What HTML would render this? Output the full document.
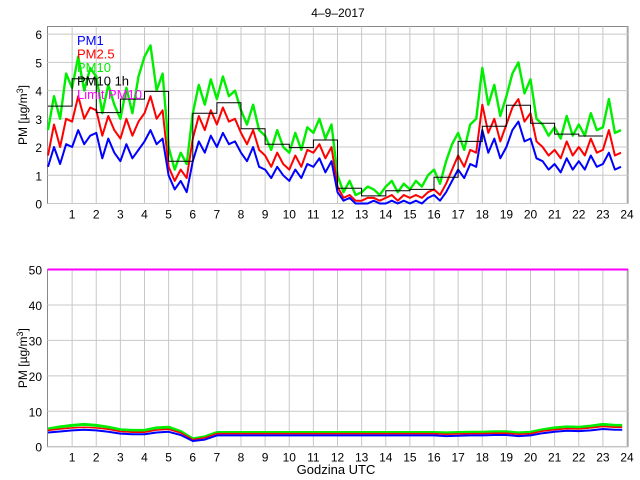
<!DOCTYPE html>
<html><head><meta charset="utf-8"><style>
body{margin:0;background:#fff;}
svg{display:block;font-family:"Liberation Sans",sans-serif;}
</style></head><body>
<svg id="chart" width="640" height="480" xmlns="http://www.w3.org/2000/svg">
<rect width="640" height="480" fill="#fff"/>
<text x="338" y="17" font-size="12" text-anchor="middle">4–9–2017</text>
<g id="top"></g>
<g id="bot"></g>
<text x="336" y="474" font-size="13" text-anchor="middle">Godzina UTC</text>
</svg>
<script>
const hourTicks=[1,2,3,4,5,6,7,8,9,10,11,12,13,14,15,16,17,18,19,20,21,22,23,24];
const topYTicks=[0,1,2,3,4,5,6];
const botYTicks=[0,10,20,30,40,50];
const pm1Top=[1.3,2.0,1.4,2.1,2.0,2.6,2.1,2.4,2.5,1.6,2.3,1.8,1.5,2.1,1.6,1.9,2.2,2.6,2.1,2.3,1.0,0.5,0.8,0.4,1.5,2.2,1.8,2.4,2.0,2.5,2.1,2.2,1.8,1.5,2.0,1.3,1.2,0.9,1.3,1.0,0.8,1.2,0.9,1.4,1.3,1.6,1.1,1.5,0.4,0.1,0.2,0,0,0,0.1,0,0,0.1,0,0.1,0,0.1,0,0.2,0.3,0.1,0.4,0.8,1.2,0.9,1.4,1.3,2.6,1.8,2.3,1.6,2.0,2.6,2.9,2.2,2.3,1.6,1.5,1.2,1.4,1.1,1.6,1.2,1.5,1.2,1.7,1.3,1.4,1.8,1.2,1.3];
const pm25Top=[1.7,2.8,2.0,3.0,2.9,3.8,3.0,3.4,3.3,2.4,3.1,2.6,2.3,3.0,2.4,2.9,3.2,3.8,3.0,3.3,1.3,0.8,1.2,0.9,2.3,3.1,2.6,3.3,2.8,3.4,2.9,3.0,2.5,2.1,2.6,1.9,1.7,1.3,1.8,1.4,1.2,1.7,1.3,1.9,1.8,2.1,1.6,2.0,0.6,0.2,0.3,0.1,0.1,0.2,0.2,0.1,0.2,0.3,0.1,0.3,0.2,0.3,0.2,0.4,0.5,0.3,0.7,1.2,1.7,1.3,1.9,1.8,3.5,2.5,3.0,2.2,2.8,3.4,3.7,2.9,3.2,2.2,2.0,1.7,1.9,1.6,2.2,1.7,2.0,1.7,2.3,1.8,1.9,2.6,1.7,1.8];
const pm10Top=[2.6,3.8,3.0,4.6,4.1,5.2,4.0,4.8,4.5,3.2,4.2,3.5,3.0,4.1,3.2,4.5,5.2,5.6,4.0,4.6,2.0,1.2,1.8,1.4,3.2,4.2,3.5,4.4,3.7,4.5,3.8,4.0,3.3,2.8,3.5,2.6,2.4,1.9,2.6,2.0,1.8,2.5,1.9,2.7,2.5,3.0,2.3,2.8,1.0,0.4,0.8,0.3,0.4,0.6,0.5,0.3,0.6,0.8,0.4,0.7,0.5,0.8,0.6,1.0,1.2,0.7,1.5,2.1,2.5,1.9,2.8,3.0,4.8,3.5,4.2,3.1,3.8,4.6,5.0,3.9,4.4,3.0,2.8,2.4,2.7,2.3,3.1,2.4,2.8,2.4,3.2,2.6,2.7,3.7,2.5,2.6];
const pm10Hourly=[3.45,4.42,3.22,3.7,3.97,1.5,3.2,3.57,2.65,2.1,1.98,2.25,0.54,0.27,0.45,0.5,0.93,2.2,2.74,3.48,2.84,2.46,2.39];
const botHours=[0,0.5,1,1.5,2,2.5,3,3.5,4,4.5,5,5.5,6,6.5,7,16,16.5,17,17.5,18,18.5,19,19.5,20,20.5,21,21.5,22,22.5,23,23.5,23.8];
const pm1Bot=[4.0,4.3,4.6,4.8,4.6,4.2,3.7,3.5,3.5,4.0,4.2,3.3,1.6,2.0,3.2,3.2,3.0,3.1,3.2,3.2,3.3,3.3,3.0,3.2,3.8,4.2,4.5,4.4,4.6,5.0,4.8,4.8];
const pm25Bot=[4.6,5.0,5.3,5.5,5.3,4.9,4.3,4.1,4.1,4.7,4.9,3.9,2.0,2.5,3.7,3.7,3.5,3.6,3.7,3.7,3.8,3.8,3.5,3.7,4.4,4.8,5.1,5.0,5.3,5.7,5.5,5.5];
const pm10Bot=[5.0,5.6,6.0,6.3,6.0,5.5,4.8,4.6,4.6,5.3,5.5,4.3,2.2,2.8,4.0,4.0,3.9,4.0,4.1,4.1,4.2,4.2,3.9,4.1,4.8,5.3,5.6,5.5,5.8,6.3,6.0,6.0];
const limitVal=50;

const NS="http://www.w3.org/2000/svg";
const X0=48,X1=627;
const xs=h=>X0+(X1-X0)*h/24;
function mk(parent,tag,attrs){const e=document.createElementNS(NS,tag);for(const k in attrs)e.setAttribute(k,attrs[k]);parent.appendChild(e);return e;}

function panel(g,top,bot,ymax,yticks,name){
  const ys=v=>bot-(bot-top)*v/ymax;
  const frame=mk(g,'rect',{x:47.5,y:top,width:580.5,height:bot-top,fill:'#fff',stroke:'#888','stroke-width':1});
  
  
  hourTicks.forEach(h=>{
    const l=mk(g,'line',{x1:xs(h),x2:xs(h),y1:top,y2:bot,stroke:'#c8c8c8','stroke-width':1});
    
    
    const t=mk(g,'text',{x:xs(h),y:bot+15,'font-size':12,'text-anchor':'middle'});
    t.textContent=h;
    
    
  });
  yticks.forEach(v=>{
    const l=mk(g,'line',{x1:47.5,x2:628,y1:ys(v),y2:ys(v),stroke:'#c8c8c8','stroke-width':1});
    
    
    const t=mk(g,'text',{x:42,y:ys(v)+5,'font-size':12,'text-anchor':'end'});
    t.textContent=v;
    
    
  });
  const yt=mk(g,'text',{transform:`translate(27,${(top+bot)/2}) rotate(-90)`,'font-size':12,'text-anchor':'middle'});
  yt.innerHTML='PM [µg/m<tspan dy="-4" font-size="9">3</tspan><tspan dy="4">]</tspan>';
  
  
  return ys;
}
function series(g,hours,vals,ys,color,name,w){
  const pts=vals.map((v,i)=>xs(hours[i]).toFixed(1)+','+ys(v).toFixed(1)).join(' ');
  const p=mk(g,'polyline',{points:pts,fill:'none',stroke:color,'stroke-width':w,'stroke-linejoin':'round'});
  
  
}

const gT=document.getElementById('top');
const ysT=panel(gT,26.5,203.5,6.27,topYTicks,'top');
const topHours=pm1Top.map((_,i)=>i*0.25);
series(gT,topHours,pm10Top,ysT,'#00ee00','pm10-line',2.4);
series(gT,topHours,pm25Top,ysT,'#ff0000','pm25-line',2);
series(gT,topHours,pm1Top,ysT,'#0000ff','pm1-line',2);
let sp=[];
pm10Hourly.forEach((v,i)=>{sp.push(xs(i).toFixed(1)+','+ysT(v).toFixed(1));sp.push(xs(i+1).toFixed(1)+','+ysT(v).toFixed(1));});
const st=mk(gT,'polyline',{points:sp.join(' '),fill:'none',stroke:'#000','stroke-width':1});


const legend=[['PM1','#0000ff'],['PM2.5','#ff0000'],['PM10','#00ee00'],['PM10 1h','#000'],['Limit PM10','#ff00ff']];
legend.forEach((l,i)=>{
  const t=mk(gT,'text',{x:77,y:45+i*13.5,'font-size':13,fill:l[1]});
  t.textContent=l[0];
  
  
});

const gB=document.getElementById('bot');
const ysB=panel(gB,269.5,446.7,50,botYTicks,'bottom');
series(gB,botHours,pm10Bot,ysB,'#00ee00','pm10-bottom-line',3);
series(gB,botHours,pm25Bot,ysB,'#ff0000','pm25-bottom-line',1.5);
series(gB,botHours,pm1Bot,ysB,'#0000ff','pm1-bottom-line',2);
const lim=mk(gB,'line',{x1:47.5,x2:628,y1:ysB(limitVal),y2:ysB(limitVal),stroke:'#ff00ff','stroke-width':2});


</script>
</body></html>
